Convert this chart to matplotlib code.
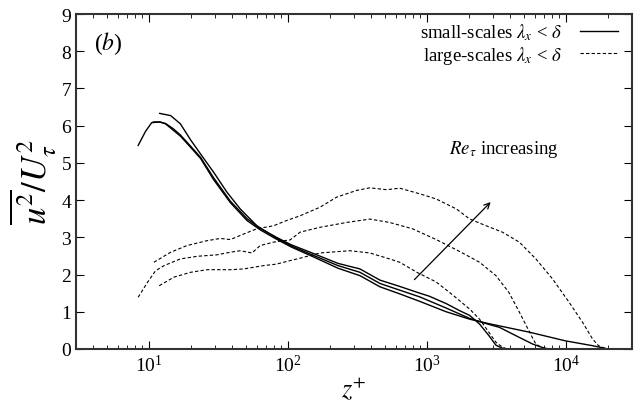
import matplotlib
matplotlib.use('Agg')
import matplotlib.pyplot as plt
from matplotlib.lines import Line2D

plt.rcParams['font.family'] = ['Liberation Serif', 'DejaVu Serif']
plt.rcParams['mathtext.fontset'] = 'stix'

# small-scale curves (solid), three Re_tau
za = [8.4, 9.5, 10.5, 12, 13.2, 15, 16.9, 20, 23.6, 29.3, 38.7, 51, 63.5, 83, 106,
      152, 230, 331, 461, 640, 890, 1040, 1380, 1725, 2040, 2400, 2800, 3150, 3600]
ua = [5.47, 5.85, 6.08, 6.1, 6.06, 5.92, 5.75, 5.45, 5.15, 4.6, 3.97, 3.5, 3.24, 3.0, 2.8,
      2.57, 2.3, 2.15, 1.85, 1.68, 1.5, 1.42, 1.22, 1.03, 0.9, 0.67, 0.36, 0.1, 0.0]
zb = [12, 14.4, 16.9, 20, 23.6, 29.3, 36.6, 45.6, 60, 83, 106,
      152, 230, 331, 461, 640, 890, 1380, 2040, 2800, 3340, 4640, 5800, 6800, 7500]
ub = [6.33, 6.27, 6.05, 5.62, 5.24, 4.75, 4.21, 3.76, 3.31, 2.98, 2.77,
      2.52, 2.24, 2.06, 1.76, 1.58, 1.4, 1.1, 0.82, 0.66, 0.58, 0.31, 0.13, 0.04, 0.0]
zc = [10.8, 12, 13.2, 16.9, 20, 23.6, 29.3, 38.7, 51, 63.5, 83, 106,
      152, 230, 331, 461, 640, 890, 1380, 2040, 2800, 3340, 5500, 9900, 15500, 18500, 20000]
uc = [6.1, 6.1, 6.05, 5.72, 5.42, 5.12, 4.55, 3.93, 3.45, 3.2, 2.95, 2.74,
      2.48, 2.17, 1.97, 1.67, 1.48, 1.28, 1.0, 0.8, 0.68, 0.62, 0.45, 0.22, 0.09, 0.03, 0.0]

# large-scale curves (dashed)
zd1 = [11.9, 15.2, 20, 26.3, 38.7, 48.3, 67, 83, 98, 123, 171, 280, 390, 540, 640,
       850, 1170, 1540, 2040, 2400, 2800, 3150, 3500, 3800]
ud1 = [1.7, 1.93, 2.06, 2.13, 2.13, 2.15, 2.24, 2.28, 2.35, 2.44, 2.58, 2.64, 2.58, 2.42, 2.33,
       2.06, 1.8, 1.45, 1.07, 0.8, 0.45, 0.18, 0.05, 0.0]
zd2 = [8.4, 9.8, 11.2, 12.9, 16.9, 22.3, 31, 38.7, 45.6, 55.3, 63.5, 79, 104, 123, 171,
       266, 390, 540, 790, 1170, 1725, 2400, 3150, 3900, 4640, 5500, 6100, 6700, 7200]
ud2 = [1.39, 1.79, 2.1, 2.24, 2.42, 2.49, 2.53, 2.6, 2.64, 2.58, 2.78, 2.87, 2.93, 3.14, 3.27,
       3.4, 3.49, 3.4, 3.23, 2.94, 2.62, 2.33, 1.97, 1.52, 0.99, 0.45, 0.13, 0.04, 0.0]
zd3 = [10.9, 14.4, 18.9, 26.3, 32.8, 38.7, 48.3, 60, 79, 98, 123, 171, 225, 313, 390,
       515, 640, 890, 1170, 1640, 2040, 2680, 3500, 4640, 6100, 8050, 10600, 13200,
       15600, 17200, 19100, 20000]
ud3 = [2.33, 2.6, 2.78, 2.91, 2.97, 2.94, 3.09, 3.23, 3.31, 3.45, 3.58, 3.81, 4.08, 4.26, 4.33,
       4.28, 4.32, 4.17, 4.03, 3.76, 3.49, 3.31, 3.14, 2.87, 2.42, 1.88, 1.25, 0.72,
       0.27, 0.09, 0.02, 0.0]

fig = plt.figure(figsize=(6.41, 4.06), dpi=100)
ax = fig.add_axes([0.1186, 0.138, 0.8674, 0.825])

for z, u in [(za, ua), (zb, ub), (zc, uc)]:
    ax.plot(z, u, '-', color='black', lw=1.0)
for z, u in [(zd1, ud1), (zd2, ud2), (zd3, ud3)]:
    ax.plot(z, u, '--', color='black', lw=0.8, dashes=(3, 2))

ax.set_xscale('log')
ax.set_xlim(3, 30000)
ax.set_ylim(0, 9)
ax.set_yticks(range(10))
ax.tick_params(which='both', direction='in', top=True, right=True, labelsize=14)
ax.tick_params(which='major', length=6)
ax.tick_params(which='minor', length=3)
for s in ax.spines.values():
    s.set_linewidth(1.5)
    s.set_color('#333333')

ax.set_xlabel(r'$z^{+}$', fontsize=19, labelpad=0)
ax.set_ylabel(r'$\overline{u^2}/U_\tau^2$', fontsize=25, labelpad=2)

ax.text(0.033, 0.915, r'($b$)', transform=ax.transAxes, fontsize=17, va='center')

ax.annotate('', xy=(2980, 4.0), xytext=(790, 1.81),
            arrowprops=dict(arrowstyle='->', color='black', lw=0.9))
ax.text(3600, 5.4, r'$Re_\tau$ increasing', fontsize=13.5, ha='center', va='center')

handles = [Line2D([], [], color='black', lw=1.0),
           Line2D([], [], color='black', lw=0.8, ls='--', dashes=(3, 2))]
labels = [r'small-scales $\lambda_x$ < $\delta$', r'large-scales $\lambda_x$ < $\delta$']
ax.legend(handles, labels, loc='upper right', frameon=False, markerfirst=False,
          fontsize=13.5, handlelength=2.0, borderaxespad=0.35, labelspacing=0.1,
          handletextpad=1.0, bbox_to_anchor=(1.0, 1.02))

fig.savefig('out.png', dpi=100)
